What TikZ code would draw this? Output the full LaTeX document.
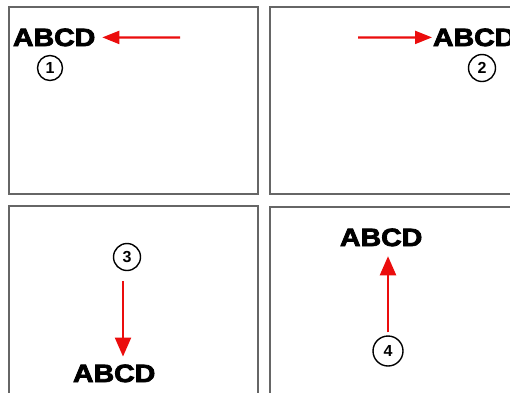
\documentclass[tikz,border=0pt]{standalone}
\usepackage{fontspec}
\usepackage{graphicx}
\usetikzlibrary{arrows.meta}
\newfontface\heavyfont{Liberation Sans Bold}[FakeBold=3]
\newfontface\numfont{Liberation Sans Bold}
\definecolor{panelgray}{rgb}{0.4,0.4,0.4}
\definecolor{arrowred}{rgb}{0.92,0.05,0.05}
\tikzset{
  panel/.style={draw=panelgray, line width=2pt},
  word/.style={inner sep=0pt, outer sep=0pt, font=\heavyfont\fontsize{25}{25}\selectfont},
  num/.style={circle, draw=black, line width=1.4pt, minimum size=27pt, inner sep=0pt, font=\numfont\fontsize{16}{16}\selectfont},
  redarrow/.style={draw=arrowred, line width=2.2pt, -{Triangle[length=17pt,width=13pt]}},
  redarrowv/.style={draw=arrowred, line width=2.2pt, -{Triangle[length=19pt,width=16pt]}}
}
\newcommand{\abcdword}{\scalebox{1.14}[1]{ABCD}}
\begin{document}
\begin{tikzpicture}[x=1pt,y=-1pt]
\useasboundingbox (0,0) rectangle (510,392);
\clip (0,0) rectangle (510,392);
\fill[white] (0,0) rectangle (510,392);
% panels
\draw[panel] (9,7) rectangle (258,194);
\draw[panel] (270,7) rectangle (540,194);
\draw[panel] (9,206) rectangle (258,420);
\draw[panel] (270,207) rectangle (540,420);
% panel 1
\node[word, anchor=base west] (t1) at (13,46) {\abcdword};
\node[num, minimum size=25pt] (c1) at (50,68) {1};
\coordinate (a1) at (180,37.5);
\draw[redarrow, shorten >=7pt] (a1) -- (t1.east);
% panel 2
\node[word, anchor=base west] (t2) at (433,46) {\abcdword};
\node[num] (c2) at (482,68) {2};
\coordinate (a2) at (358,37.5);
\draw[redarrow, shorten >=1pt] (a2) -- (t2.west);
% panel 3
\node[num] (c3) at (127,257) {3};
\node[word, anchor=base west] (t3) at (73,382) {\abcdword};
\coordinate (a3) at (123,281);
\draw[redarrowv, shorten >=8pt] (a3) -- (a3 |- t3.north);
% panel 4
\node[word, anchor=base west] (t4) at (340,246) {\abcdword};
\node[num, minimum size=30pt] (c4) at (388,351) {4};
\draw[redarrowv, shorten <=3pt, shorten >=10pt] (c4.north) -- (c4 |- t4.south);
\end{tikzpicture}
\end{document}
